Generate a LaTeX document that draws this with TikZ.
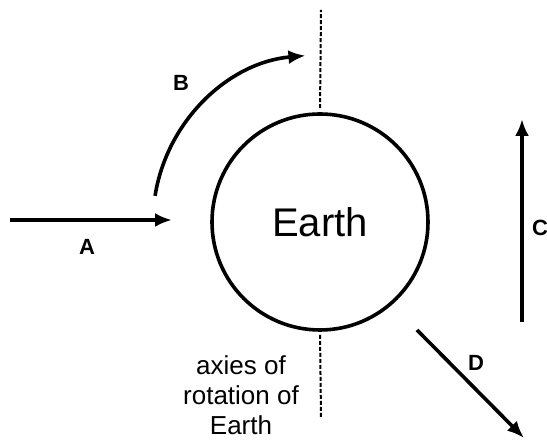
\documentclass[tikz,border=0pt]{standalone}
\usepackage{fontspec}
\setmainfont{Liberation Sans}
\usetikzlibrary{positioning, arrows.meta}

\begin{document}
\begin{tikzpicture}[x=1pt, y=1pt,
    arr/.style={line width=3.6pt, -{Latex[length=17pt, width=14pt]}},
    axisline/.style={line width=2pt, dash pattern=on 4pt off 2pt},
    lbl/.style={font=\fontsize{22}{24}\selectfont\bfseries, inner sep=0pt}]
        \useasboundingbox (0,0) rectangle (547,441);
        % the planet
        \node[draw, circle, line width=3.6pt, minimum size=216pt, inner sep=0pt,
          font=\fontsize{40}{44}\selectfont] (earth) at (320,219) {Earth};
        % axis of rotation
        \coordinate (axtop) at (321,431);
        \coordinate (axbot) at (321,24);
        \draw[axisline, shorten <=4pt] (earth.north) -- (axtop);
        \draw[axisline, shorten <=3pt] (earth.south) -- (axbot);
        \node[align=center, font=\fontsize{26}{30}\selectfont, inner sep=0pt]
          (axtext) at (241,46) {axies of\\ rotation of\\ Earth};
        % arrows
        \coordinate (astart) at (10,221);
        \coordinate (aend) at (172,221);
        \draw[arr] (astart) -- (aend);
        \node[lbl] (alabel) at (87,194) {A};
        \draw[arr] ([shift={(171:167)}]earth.center) arc (171:95:167) coordinate (bend);
        \node[lbl] (blabel) at (181,358) {B};
        \coordinate (cstart) at (522,119);
        \coordinate (cend) at (522,322);
        \draw[arr] (cstart) -- (cend);
        \node[lbl, anchor=west] (clabel) at (532,213) {C};
        \coordinate (dstart) at (417,111);
        \coordinate (dend) at (524,3);
        \draw[arr] (dstart) -- (dend);
        \node[lbl] (dlabel) at (476,78) {D};
      \end{tikzpicture}
\end{document}
